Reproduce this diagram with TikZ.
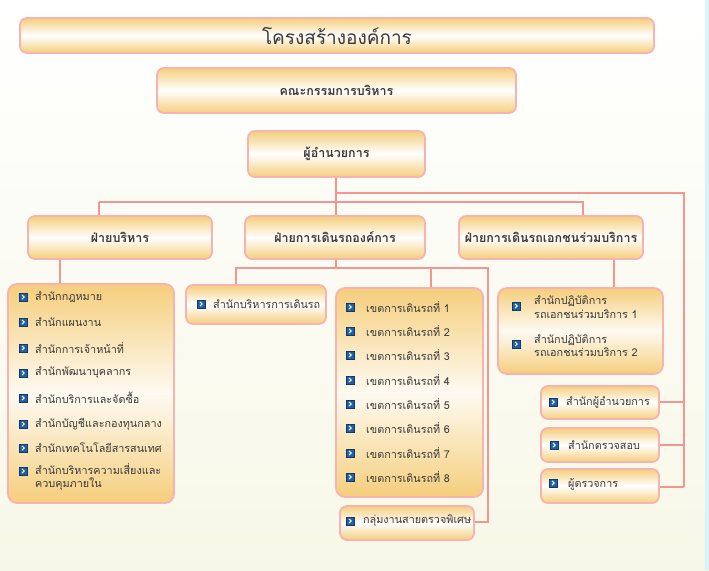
\documentclass[tikz,border=0pt]{standalone}
\usepackage{fontspec}
\setmainfont[Script=Thai]{Loma}
\begin{document}
\definecolor{ln}{HTML}{F49590}
\definecolor{bd}{HTML}{F7B3B0}
\definecolor{org}{HTML}{F5CE7C}
\definecolor{txt}{HTML}{3A3A3A}
\definecolor{ic}{HTML}{1F5FA8}
\begin{tikzpicture}[x=1pt,y=-1pt,
  box/.style={draw=bd,line width=1.8pt,rounded corners=7pt,top color=org,bottom color=org,middle color=white},
  lbox/.style={draw=bd,line width=1.8pt,rounded corners=9pt,top color=org,bottom color=org,middle color=white!90!org},
  conn/.style={draw=ln,line width=2.6pt},
  hd/.style={text=txt,font=\bfseries\fontsize{12.5}{14}\selectfont,anchor=center},
  it/.style={text=txt,font=\fontsize{10.8}{13.5}\selectfont,anchor=west,align=left,inner sep=0pt},
  icn/.style={fill=ic,draw=ic!60!black,line width=.3pt,minimum size=8pt,inner sep=0pt,
    path picture={\draw[white,line width=1.1pt] ([xshift=-1pt,yshift=2pt]path picture bounding box.center) -- ([xshift=1.2pt]path picture bounding box.center) -- ([xshift=-1pt,yshift=-2pt]path picture bounding box.center);}}]
\useasboundingbox (0,0) rectangle (709,570);
\shade[top color=white,bottom color=white!85!olive!40] (0,0) rectangle (709,570);
\fill[cyan!15] (705,0) rectangle (709,570);
% lines
\coordinate (j1) at (336,193);\coordinate (j2) at (684,193);
\coordinate (k1) at (99,202);\coordinate (k2) at (583,202);
\draw[conn] (336,177) -- (336,216);
\draw[conn] (j1) -- (j2) -- (684,487);
\draw[conn] (k1) -- (k2) -- (583,216);
\draw[conn] (k1) -- (99,216);
\draw[conn] (60,259) -- (60,284);
\draw[conn] (336,259) -- (336,268);
\draw[conn] (236,285) -- (236,268) -- (488,268) -- (488,522) -- (474,522);
\draw[conn] (431,268) -- (431,288);
\draw[conn] (614,259) -- (614,288);
\draw[conn] (684,402) -- (659,402);
\draw[conn] (684,445) -- (659,445);
\draw[conn] (684,487) -- (659,487);
% boxes
\draw[box] (20,18) rectangle (654,53) node[pos=.5,hd,font=\fontsize{19}{21}\selectfont] (t) {โครงสร้างองค์การ};
\draw[box] (157,68) rectangle (516,113) node[pos=.5,hd] (b) {คณะกรรมการบริหาร};
\draw[box] (248,131) rectangle (425,177) node[pos=.5,hd] (d) {ผู้อำนวยการ};
\draw[box] (28,216) rectangle (212,259) node[pos=.5,hd] (f1) {ฝ่ายบริหาร};
\draw[box] (245,216) rectangle (425,259) node[pos=.5,hd] (f2) {ฝ่ายการเดินรถองค์การ};
\draw[box] (459,216) rectangle (643,259) node[pos=.5,hd] (f3) {ฝ่ายการเดินรถเอกชนร่วมบริการ};
\draw[lbox] (8,284) rectangle (174,503);
\draw[box] (186,285) rectangle (326,324);
\draw[lbox] (336,288) rectangle (483,497);
\draw[box] (340,506) rectangle (474,540);
\draw[lbox] (498,288) rectangle (663,374);
\draw[box] (541,386) rectangle (659,419);
\draw[box] (541,428) rectangle (659,462);
\draw[box] (541,469) rectangle (659,503);
% list 1
\foreach \y/\t [count=\i] in {297/สำนักกฎหมาย,322/สำนักแผนงาน,348/สำนักการเจ้าหน้าที่,373/สำนักพัฒนาบุคลากร,398/สำนักบริการและจัดซื้อ,424/สำนักบัญชีและกองทุนกลาง,448/สำนักเทคโนโลยีสารสนเทศ}{
  \node[icn] (a\i) at (23,\y) {}; \node[it] (at\i) at (35,\y) {\t};}
\node[icn] (a8) at (23,471) {};
\node[it,anchor=north west] (at8) at (35,463) {สำนักบริหารความเสี่ยงและ\\ควบคุมภายใน};
% rot
\node[icn] (r1) at (201,304) {}; \node[it] (rt1) at (213,304) {สำนักบริหารการเดินรถ};
% list 2
\foreach \y [count=\i] in {307,331,355,380,404,428,453,477}{
  \node[icn] (z\i) at (350,\y) {}; \node[it] (zt\i) at (366,\y) {เขตการเดินรถที่ \i};}
\node[icn] (g1) at (350,521) {}; \node[it] (gt1) at (363,521) {กลุ่มงานสายตรวจพิเศษ};
% list 3
\node[icn] (p1) at (516,306) {}; \node[it,anchor=north west] (pt1) at (534,296) {สำนักปฏิบัติการ\\รถเอกชนร่วมบริการ 1};
\node[icn] (p2) at (516,344) {}; \node[it,anchor=north west] (pt2) at (534,334) {สำนักปฏิบัติการ\\รถเอกชนร่วมบริการ 2};
% small boxes
\node[icn] (s1) at (553,402) {}; \node[it] (st1) at (566,402) {สำนักผู้อำนวยการ};
\node[icn] (s2) at (554,445) {}; \node[it] (st2) at (568,445) {สำนักตรวจสอบ};
\node[icn] (s3) at (553,483) {}; \node[it] (st3) at (568,484) {ผู้ตรวจการ};
\end{tikzpicture}
\end{document}
